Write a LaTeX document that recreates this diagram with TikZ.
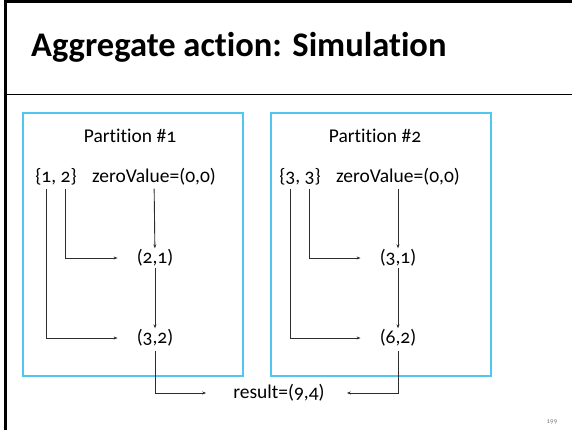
\documentclass[tikz,border=0pt]{standalone}
\usepackage{fontspec}
\setmainfont{Carlito}[Numbers=OldStyle, Ligatures=CommonOff]
\usetikzlibrary{positioning,arrows.meta}
\definecolor{partblue}{RGB}{80,198,240}
\definecolor{wire}{RGB}{45,45,45}

\tikzset{
  txt/.style={font=\fontsize{19.5}{23}\selectfont, inner sep=1pt},
  partbox/.style={draw=partblue, line width=1.6pt},
  flow/.style={->, draw=wire, line width=0.9pt}
}

\begin{document}
\begin{tikzpicture}[x=1pt,y=-1pt,>={Stealth[length=4pt,width=3pt]}]

  \useasboundingbox (0,0) rectangle (572,430);

  % slide frame and title
  \draw[line width=3pt] (5.5,430) -- (5.5,1.5) -- (572,1.5);
  \draw[line width=0.8pt] (7,94.5) -- (572,94.5);
  \node[anchor=west, inner sep=0pt, font=\bfseries\fontsize{34.5}{40}\selectfont] (title) at (31,47) {Aggregate action: Simulation};

  % partition boxes
  \draw[partbox] (23,113) rectangle (243,376);
  \draw[partbox] (271,113) rectangle (491,376);

  % first partition
  \node[txt] (part1) at (130,136) {Partition \#1};
  \node[txt] (set1) at (56,177) {\{1, 2\}};
  \node[txt] (zero1) at (154,177) {zeroValue=(0,0)};
  \node[txt] (acc1) at (155,258) {(2,1)};
  \node[txt] (fin1) at (155,338) {(3,2)};

  % second partition
  \node[txt] (part2) at (375,136) {Partition \#2};
  \node[txt] (set2) at (300,177) {\{3, 3\}};
  \node[txt] (zero2) at (398,177) {zeroValue=(0,0)};
  \node[txt] (acc2) at (398,258) {(3,1)};
  \node[txt] (fin2) at (398,338) {(6,2)};

  % combined result
  \node[txt] (res) at (279,393) {result=(9,4)};
  \node[font=\fontsize{7}{8}\selectfont, text=gray, inner sep=0pt] (pg) at (552,422) {199};

  % seqOp steps
  \draw[flow, shorten <=2pt] (zero1) -- (acc1);
  \draw[flow] (acc1) -- (fin1);
  \draw[flow, shorten <=2pt, shorten >=18pt] ([xshift=9.5pt]set1.south) |- (acc1);
  \draw[flow, shorten <=2pt, shorten >=18pt] ([xshift=-9.5pt]set1.south) |- (fin1);

  \draw[flow, shorten <=2pt] (zero2) -- (acc2);
  \draw[flow] (acc2) -- (fin2);
  \draw[flow, shorten <=2pt, shorten >=18pt] ([xshift=9.5pt]set2.south) |- (acc2);
  \draw[flow, shorten <=2pt, shorten >=18pt] ([xshift=-9.5pt]set2.south) |- (fin2);

  % combOp
  \draw[flow, shorten <=3pt, shorten >=26pt] (fin1) |- (res);
  \draw[flow, shorten <=3pt, shorten >=21pt] (fin2) |- (res);

\end{tikzpicture}
\end{document}
